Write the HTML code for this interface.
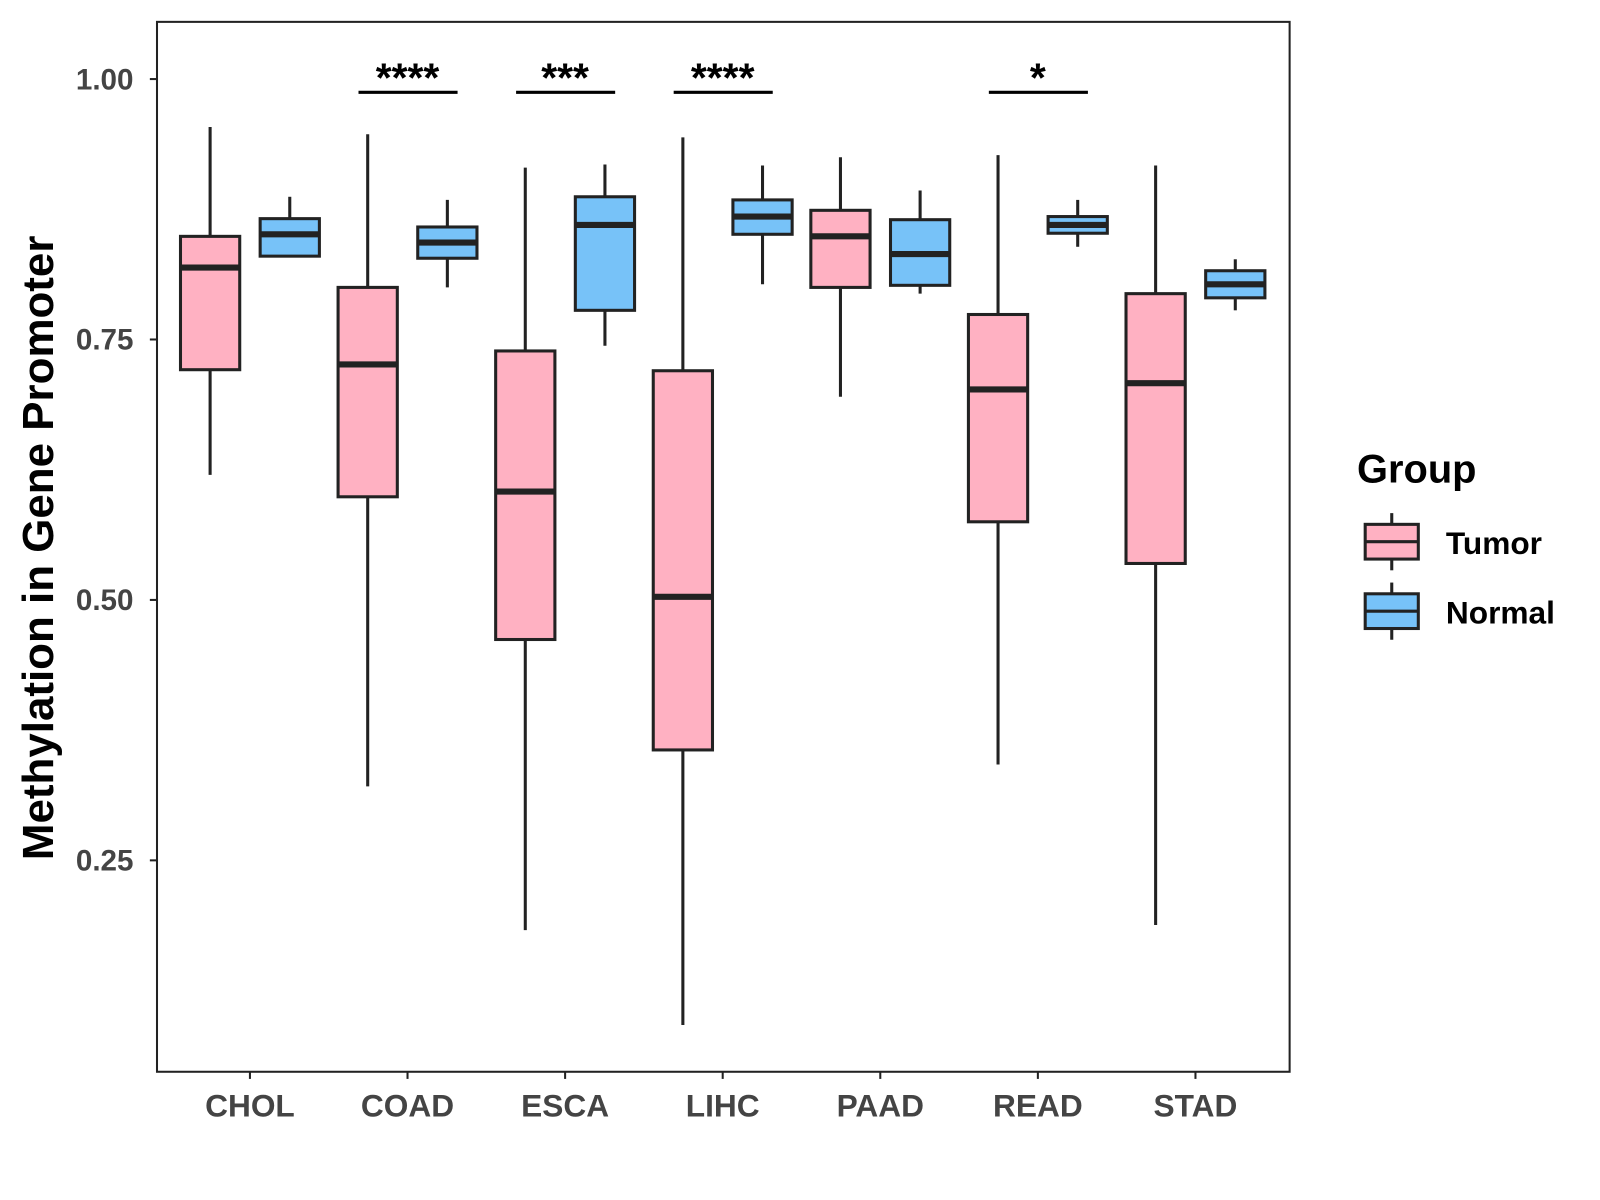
<!DOCTYPE html>
<html><head><meta charset="utf-8"><style>
body{margin:0;background:#fff}
svg{display:block;font-family:"Liberation Sans",Arial,sans-serif}
</style></head><body>
<svg id="chart" width="1600" height="1200" viewBox="0 0 1600 1200">
<g transform="translate(-1.3,-0.6) scale(1.0213)">
<rect x="155" y="22" width="1109" height="1028" fill="#fff" stroke="#222" stroke-width="2"/>
<g id="marks"></g>
<text transform="translate(53,537) rotate(-90)" text-anchor="middle" font-size="43" font-weight="bold" fill="#000">Methylation in Gene Promoter</text>
<g>
<text x="1330" y="473" font-size="39" font-weight="bold">Group</text>
<g>
<line x1="1364" y1="503" x2="1364" y2="559" stroke="#222" stroke-width="3"/>
<rect x="1338" y="514" width="52" height="34" fill="#FFB1C2" stroke="#222" stroke-width="3"/>
<line x1="1338" y1="531" x2="1390" y2="531" stroke="#222" stroke-width="3"/>
<text x="1417" y="543" font-size="31" font-weight="bold">Tumor</text></g>
<g>
<line x1="1364" y1="571" x2="1364" y2="627" stroke="#222" stroke-width="3"/>
<rect x="1338" y="582" width="52" height="34" fill="#77C2F8" stroke="#222" stroke-width="3"/>
<line x1="1338" y1="599" x2="1390" y2="599" stroke="#222" stroke-width="3"/>
<text x="1417" y="611" font-size="31" font-weight="bold">Normal</text></g>
</g>
</g>
</svg>
<script>
const categories=["CHOL","COAD","ESCA","LIHC","PAAD","READ","STAD"];
const yTicks=[0.25,0.5,0.75,1.0];
const yTickLabels=["0.25","0.50","0.75","1.00"];
// [low, q1, median, q3, high]
const tumorStats=[[0.620,0.721,0.819,0.849,0.954],[0.321,0.599,0.726,0.800,0.947],[0.183,0.462,0.604,0.739,0.915],[0.092,0.356,0.503,0.720,0.944],[0.695,0.800,0.849,0.874,0.925],[0.342,0.575,0.702,0.774,0.927],[0.188,0.535,0.708,0.794,0.917]];
const normalStats=[[0.830,0.830,0.851,0.866,0.887],[0.800,0.828,0.843,0.858,0.884],[0.744,0.778,0.860,0.887,0.918],[0.803,0.851,0.868,0.884,0.917],[0.794,0.802,0.832,0.865,0.893],[0.839,0.852,0.860,0.868,0.884],[0.778,0.790,0.803,0.816,0.827]];
const sigLabels=["","****","***","****","","*",""];
const NS="http://www.w3.org/2000/svg";
const g=document.getElementById('marks');
function y(v){return 78+(1-v)*1020;}
function x(i){return 246+i*154.3;}
function mk(t,a){const e=document.createElementNS(NS,t);for(const k in a)e.setAttribute(k,a[k]);g.appendChild(e);return e;}
yTicks.forEach((v,i)=>{
 const t=mk('line',{x1:148,x2:155,y1:y(v),y2:y(v),stroke:'#222','stroke-width':2});
 
 
 const l=mk('text',{x:132,y:y(v)+10,'text-anchor':'end','font-size':29,'font-weight':'bold',fill:'#444'});
 l.textContent=yTickLabels[i];
 
 
});
categories.forEach((c,i)=>{
 const t=mk('line',{x1:x(i),x2:x(i),y1:1050,y2:1057,stroke:'#222','stroke-width':2});
 
 
 const l=mk('text',{x:x(i),y:1094,'text-anchor':'middle','font-size':31,'font-weight':'bold',fill:'#444'});
 l.textContent=c;
 
 
 [[tumorStats[i],-39,'#FFB1C2','tumor'],[normalStats[i],39,'#77C2F8','normal']].forEach(([s,o,col,nm])=>{
  const cx=x(i)+o,hw=29;
  const w=mk('line',{x1:cx,x2:cx,y1:y(s[4]),y2:y(s[0]),stroke:'#222','stroke-width':3});
  
  
  const b=mk('rect',{x:cx-hw,y:y(s[3]),width:hw*2,height:y(s[1])-y(s[3]),fill:col,stroke:'#222','stroke-width':3});
  
  
  const m=mk('line',{x1:cx-hw,x2:cx+hw,y1:y(s[2]),y2:y(s[2]),stroke:'#222','stroke-width':6});
  
  
 });
 if(sigLabels[i]){
  const br=mk('line',{x1:x(i)-48,x2:x(i)+49,y1:91,y2:91,stroke:'#000','stroke-width':3});
  
  
  const st=mk('text',{x:x(i),y:90,'text-anchor':'middle','font-size':40,'font-weight':'bold',fill:'#000'});
  st.textContent=sigLabels[i];
  
  
 }
});
</script>
</body></html>
